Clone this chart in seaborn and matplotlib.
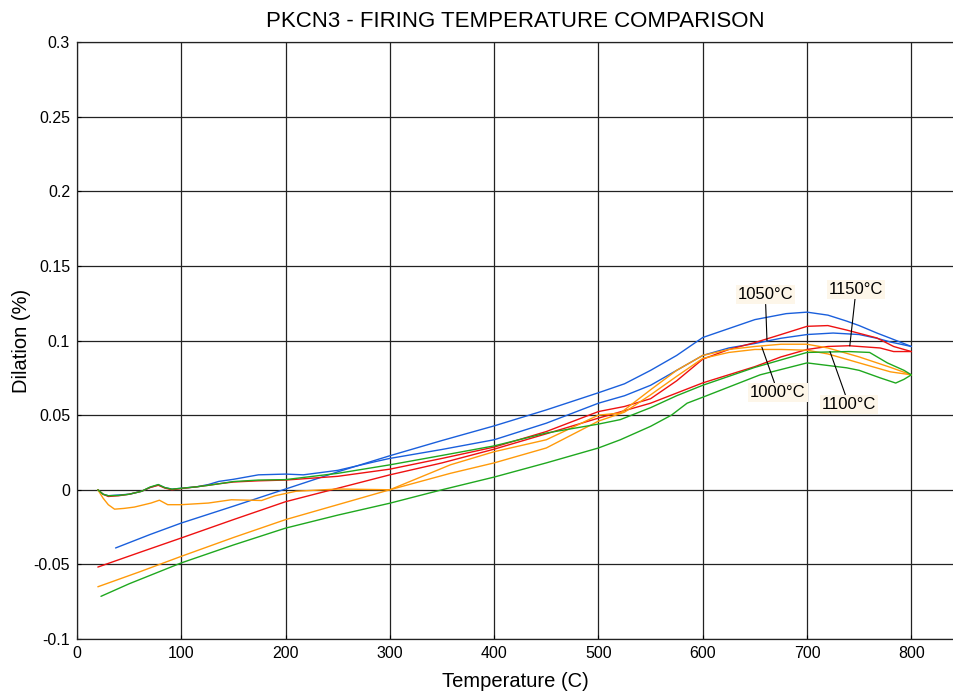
import matplotlib
matplotlib.use("Agg")
import matplotlib.pyplot as plt
import seaborn as sns
import pandas as pd

# ---------------- data ----------------
# Blue = 1050°C
blue_heat_T = [20, 25, 30, 40, 50, 62, 70, 78, 84, 91, 100, 115, 126, 136, 150, 174, 200, 217, 250, 287, 300, 350, 400, 450, 500, 525, 550, 575, 600, 625, 650, 675, 700, 725, 750, 767, 780, 800]
blue_heat_D = [0, -0.003, -0.004, -0.0035, -0.003, -0.001, 0.0015, 0.0033, 0.0015, 0.0004, 0.001, 0.002, 0.0035, 0.0056, 0.007, 0.010, 0.0105, 0.010, 0.013, 0.019, 0.021, 0.027, 0.0335, 0.0446, 0.058, 0.063, 0.070, 0.080, 0.090, 0.095, 0.098, 0.1015, 0.104, 0.105, 0.104, 0.1015, 0.099, 0.096]
blue_cool_T = [800, 780, 767, 750, 738, 720, 700, 680, 650, 625, 600, 575, 550, 525, 500, 450, 400, 350, 300, 250, 200, 150, 100, 70, 37]
blue_cool_D = [0.096, 0.1015, 0.105, 0.110, 0.113, 0.117, 0.119, 0.118, 0.114, 0.108, 0.102, 0.090, 0.080, 0.071, 0.065, 0.0535, 0.0428, 0.033, 0.0228, 0.012, 0.0005, -0.011, -0.0223, -0.030, -0.039]

# Red = 1150°C
red_heat_T = [20, 25, 30, 40, 50, 62, 70, 78, 84, 91, 100, 115, 126, 136, 150, 174, 200, 250, 300, 350, 400, 450, 500, 525, 550, 575, 600, 625, 650, 675, 700, 720, 738, 767, 783, 800]
red_heat_D = [0, -0.003, -0.0045, -0.004, -0.003, -0.001, 0.0015, 0.003, 0.0012, 0.0, 0.0008, 0.002, 0.003, 0.004, 0.0052, 0.006, 0.0065, 0.009, 0.0138, 0.021, 0.0286, 0.039, 0.0524, 0.0558, 0.061, 0.073, 0.0875, 0.094, 0.0986, 0.104, 0.1095, 0.110, 0.107, 0.1017, 0.096, 0.0926]
red_cool_T = [800, 783, 770, 740, 720, 700, 675, 650, 600, 550, 500, 450, 400, 350, 300, 250, 200, 150, 100, 60, 20]
red_cool_D = [0.0926, 0.0926, 0.095, 0.0965, 0.096, 0.094, 0.089, 0.0825, 0.0716, 0.058, 0.048, 0.0375, 0.0272, 0.018, 0.010, 0.001, -0.008, -0.020, -0.0323, -0.042, -0.0518]

# Orange = 1000°C
orange_heat_T = [20, 25, 30, 36, 45, 55, 71, 79, 87, 100, 126, 148, 177, 190, 210, 250, 300, 358, 400, 450, 500, 525, 550, 575, 600, 625, 650, 675, 700, 720, 750, 780, 800]
orange_heat_D = [0, -0.0056, -0.010, -0.013, -0.0125, -0.0116, -0.0089, -0.007, -0.010, -0.010, -0.0089, -0.0067, -0.0072, -0.004, -0.001, 0.0005, 0.0, 0.011, 0.018, 0.028, 0.046, 0.052, 0.0636, 0.076, 0.088, 0.092, 0.094, 0.094, 0.0935, 0.091, 0.085, 0.079, 0.077]
orange_cool_T = [800, 780, 750, 720, 700, 675, 650, 625, 600, 575, 550, 521, 500, 450, 400, 358, 300, 250, 200, 150, 100, 60, 20]
orange_cool_D = [0.077, 0.082, 0.089, 0.095, 0.0975, 0.0975, 0.096, 0.094, 0.090, 0.080, 0.067, 0.0514, 0.050, 0.0335, 0.0255, 0.0167, 0.0, -0.010, -0.020, -0.032, -0.0446, -0.055, -0.065]

# Green = 1100°C
green_heat_T = [20, 25, 30, 40, 50, 62, 70, 78, 84, 91, 100, 115, 126, 136, 150, 174, 200, 250, 300, 350, 400, 450, 500, 521, 550, 575, 600, 650, 700, 740, 760, 777, 793, 800]
green_heat_D = [0, -0.003, -0.004, -0.0038, -0.003, -0.001, 0.0018, 0.0035, 0.0015, 0.0004, 0.001, 0.002, 0.003, 0.004, 0.0055, 0.0065, 0.0068, 0.011, 0.0167, 0.023, 0.0294, 0.038, 0.044, 0.047, 0.055, 0.063, 0.070, 0.082, 0.092, 0.0926, 0.092, 0.085, 0.080, 0.077]
green_cool_T = [800, 793, 785, 770, 750, 738, 700, 655, 600, 585, 570, 550, 521, 500, 450, 400, 350, 300, 250, 200, 150, 100, 50, 23]
green_cool_D = [0.077, 0.074, 0.0715, 0.075, 0.080, 0.0817, 0.085, 0.077, 0.062, 0.058, 0.050, 0.0425, 0.0335, 0.028, 0.018, 0.0085, 0.0, -0.009, -0.017, -0.0257, -0.037, -0.049, -0.063, -0.0714]

samples = ["1050°C", "1150°C", "1000°C", "1100°C"]
colors = ["#1a5fdc", "#ee1111", "#ff9a0a", "#1fa81f"]

# label text, text position (T, D), point on curve (T, D)
label_text = ["1050°C", "1150°C", "1000°C", "1100°C"]
label_pos_T = [660, 747, 672, 740]
label_pos_D = [0.1305, 0.1342, 0.0653, 0.0572]
label_pt_T = [661.6, 741, 656.7, 722]
label_pt_D = [0.0999, 0.0964, 0.0955, 0.0926]

x_ticks = [0, 100, 200, 300, 400, 500, 600, 700, 800]
y_ticks = [-0.1, -0.05, 0, 0.05, 0.1, 0.15, 0.2, 0.25, 0.3]
y_tick_labels = ["-0.1", "-0.05", "0", "0.05", "0.1", "0.15", "0.2", "0.25", "0.3"]

# ---------------- build long table ----------------
curves = [
    ("1050°C", "heat", blue_heat_T, blue_heat_D),
    ("1050°C", "cool", blue_cool_T, blue_cool_D),
    ("1150°C", "heat", red_heat_T, red_heat_D),
    ("1150°C", "cool", red_cool_T, red_cool_D),
    ("1000°C", "heat", orange_heat_T, orange_heat_D),
    ("1000°C", "cool", orange_cool_T, orange_cool_D),
    ("1100°C", "heat", green_heat_T, green_heat_D),
    ("1100°C", "cool", green_cool_T, green_cool_D),
]
rows = []
for s, seg, T, D in curves:
    for t, d in zip(T, D):
        rows.append({"sample": s, "unit": s + seg, "T": t, "D": d})
df = pd.DataFrame(rows)

# ---------------- plot ----------------
sns.set_theme(style="white")
plt.rcParams["font.family"] = ["Liberation Sans", "DejaVu Sans"]
plt.rcParams["text.color"] = "black"
plt.rcParams["axes.labelcolor"] = "black"
plt.rcParams["xtick.color"] = "black"
plt.rcParams["ytick.color"] = "black"

fig = plt.figure(figsize=(9.54, 6.93), dpi=100)
ax = fig.add_axes([0.0807, 0.0779, 0.9183, 0.8615])

sns.lineplot(data=df, x="T", y="D", hue="sample", units="unit", estimator=None,
             sort=False, palette=dict(zip(samples, colors)), hue_order=samples,
             linewidth=1.0, legend=False, ax=ax)

ax.set_xlim(0, 840)
ax.set_ylim(-0.1, 0.3)
ax.set_xticks(x_ticks)
ax.set_yticks(y_ticks)
ax.set_yticklabels(y_tick_labels)
ax.grid(True, color="#222222", linewidth=0.9)
ax.set_axisbelow(True)
for side in ["left", "bottom", "top"]:
    ax.spines[side].set_visible(True)
    ax.spines[side].set_color("#222222")
    ax.spines[side].set_linewidth(0.9)
ax.spines["right"].set_visible(False)
ax.tick_params(axis="both", direction="in", length=3, width=0.8, pad=5,
               labelsize=11.5, colors="black", left=True, bottom=True)

ax.set_xlabel("Temperature (C)", fontsize=14.5, labelpad=8, color="black")
ax.set_ylabel("Dilation (%)", fontsize=14.5, labelpad=2, color="black")
ax.set_title("PKCN3 - FIRING TEMPERATURE COMPARISON", fontsize=16, pad=11, color="black")

for txt, tx, ty, px, py in zip(label_text, label_pos_T, label_pos_D, label_pt_T, label_pt_D):
    ax.annotate(txt, xy=(px, py), xytext=(tx, ty), ha="center", va="center",
                fontsize=12, color="black",
                bbox=dict(boxstyle="square,pad=0.12", fc="#fdf6e9", ec="none"),
                arrowprops=dict(arrowstyle="-", color="black", lw=0.8,
                                shrinkA=0, shrinkB=0))

fig.savefig("out.png", dpi=100)
